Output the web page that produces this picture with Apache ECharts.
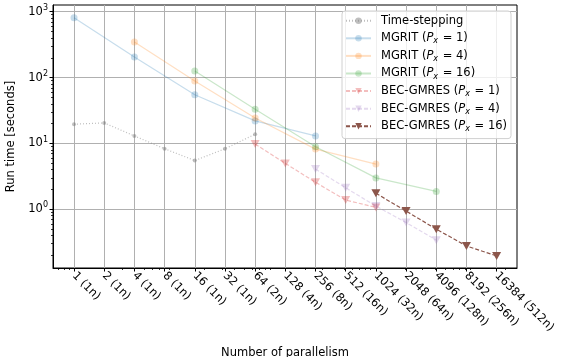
<!DOCTYPE html>
<html><head><meta charset="utf-8">
<script src="https://cdn.jsdelivr.net/npm/echarts@6/dist/echarts.min.js"></script>
<style>html,body{margin:0;padding:0;background:#fff}#c{width:561px;height:357px}</style>
</head><body><div id="c"></div><script>
// ---- data ----
const xTicks = [1,2,4,8,16,32,64,128,256,512,1024,2048,4096,8192,16384];
const xTickLabels = ['1 (1n)','2 (1n)','4 (1n)','8 (1n)','16 (1n)','32 (1n)','64 (2n)','128 (4n)','256 (8n)','512 (16n)','1024 (32n)','2048 (64n)','4096 (128n)','8192 (256n)','16384 (512n)'];
const yTicks = [1,10,100,1000];
const yTickExp = ['0','1','2','3'];

const seriesNames = ['Time-stepping','MGRIT (Px = 1)','MGRIT (Px = 4)','MGRIT (Px = 16)','BEC-GMRES (Px = 1)','BEC-GMRES (Px = 4)','BEC-GMRES (Px = 16)'];
const tsX = [1,2,4,8,16,32,64];
const tsY = [19.6,20.5,13.0,8.3,5.5,8.3,13.8];
const mg1X = [1,4,16,64,256];
const mg1Y = [811,205,55,22,13.0];
const mg4X = [4,16,64,256,1024];
const mg4Y = [346,89,24.4,8.2,4.86];
const mg16X = [16,64,256,1024,4096];
const mg16Y = [126,33,8.9,3.0,1.87];
const bec1X = [64,128,256,512,1024];
const bec1Y = [9.8,4.98,2.57,1.38,1.07];
const bec4X = [256,512,1024,2048,4096];
const bec4Y = [4.08,2.12,1.12,0.63,0.34];
const bec16X = [1024,2048,4096,8192,16384];
const bec16Y = [1.75,0.94,0.50,0.278,0.196];

// ---- helpers ----
const XMIN = 0.617, XMAX = 26140, YMIN = 0.1285, YMAX = 1265;
function minorVals(lo, hi){
  const out=[];
  for(let k=-2;k<=5;k++){for(let m=2;m<=9;m++){const v=m*Math.pow(10,k); if(v>lo&&v<hi) out.push(v);}}
  return out;
}
const xMinor = minorVals(XMIN, XMAX);
const yMinor = minorVals(YMIN, YMAX);
const zip = (a,b)=>a.map((v,i)=>[v,b[i]]);
const FONT = 'DejaVu Sans';
const FS = 11.5;

function legendFmt(name){
  const m = name.match(/^(.*)\(Px = (\d+)\)$/);
  if(!m) return '{t|'+name+'}';
  return '{t|'+m[1]+'(}{i|P}{s|x}{t| = '+m[2]+')}';
}

function mk(name, xs, ys, color, alpha, opts){
  const c = echarts.color.modifyAlpha(color, alpha);
  return Object.assign({
    name, type:'line', data: zip(xs,ys), xAxisIndex:0, yAxisIndex:0,
    symbol:'circle', symbolSize:7,
    lineStyle:{color:c, width:1.2},
    itemStyle:{color:c, borderWidth:0},
    emphasis:{disabled:true}, animation:false, z:3
  }, opts||{});
}

const series = [
  mk(seriesNames[0], tsX, tsY, '#7f7f7f', 0.5, {symbolSize:4, lineStyle:{color:'rgba(127,127,127,0.5)', width:1.2, type:[1,2]}}),
  mk(seriesNames[1], mg1X, mg1Y, '#1f77b4', 0.25),
  mk(seriesNames[2], mg4X, mg4Y, '#ff7f0e', 0.25),
  mk(seriesNames[3], mg16X, mg16Y, '#2ca02c', 0.25),
  mk(seriesNames[4], bec1X, bec1Y, '#d62728', 0.3, {symbol:'triangle', symbolRotate:180, symbolSize:[9,8], lineStyle:{color:'rgba(214,39,40,0.3)', width:1.2, type:[4,2]}}),
  mk(seriesNames[5], bec4X, bec4Y, '#9467bd', 0.25, {symbol:'triangle', symbolRotate:180, symbolSize:[9,8], lineStyle:{color:'rgba(148,103,189,0.25)', width:1.2, type:[4,2]}}),
  mk(seriesNames[6], bec16X, bec16Y, '#8c564b', 1, {symbol:'triangle', symbolRotate:180, symbolSize:[9,8], lineStyle:{color:'#8c564b', width:1.2, type:[4,2]}})
];

const chart = echarts.init(document.getElementById('c'), null, {renderer:'canvas'});
chart.setOption({
  animation:false,
  backgroundColor:'#fff',
  grid:{left:53, top:5, right:44, bottom:89, containLabel:false, outerBoundsMode:'none',
    show:true, borderColor:'#000', borderWidth:1, backgroundColor:'transparent'},
  legend:{
    orient:'vertical', left:342, top:11,
    itemWidth:25, itemHeight:8, itemGap:3.6,
    padding:[2.7,4,5.3,3],
    backgroundColor:'rgba(255,255,255,0.8)', borderColor:'#d0d0d0', borderWidth:1, borderRadius:3,
    data: seriesNames,
    formatter: legendFmt,
    textStyle:{fontFamily:FONT, fontSize:FS, color:'#000', lineHeight:14, padding:[0,0,0,5],
      rich:{
        t:{fontFamily:FONT, fontSize:FS, color:'#000'},
        i:{fontFamily:FONT, fontSize:FS, fontStyle:'italic', color:'#000'},
        s:{fontFamily:FONT, fontSize:8, fontStyle:'italic', color:'#000', padding:[6,1,0,0]}
      }},
    z:10
  },
  xAxis:[{
    type:'log', logBase:2, min:XMIN, max:XMAX, position:'bottom',
    name:'Number of parallelism', nameLocation:'middle', nameGap:79,
    nameTextStyle:{fontFamily:FONT, fontSize:FS, color:'#000'},
    axisLine:{show:true, lineStyle:{color:'#000', width:1}},
    axisTick:{show:true, length:3.5, customValues:xTicks, lineStyle:{color:'#000', width:1}},
    axisLabel:{customValues:xTicks, rotate:-45, margin:6, fontFamily:FONT, fontSize:FS, color:'#000', hideOverlap:false,
      formatter:(v)=>{const i=xTicks.findIndex(t=>Math.abs(t-v)/t<1e-6); return i<0?'':xTickLabels[i];}},
    splitLine:{show:true, lineStyle:{color:'#b0b0b0', width:1}},
    minorTick:{show:false}
  },{
    type:'log', logBase:2, min:XMIN, max:XMAX, position:'bottom', offset:0,
    axisLine:{show:false},
    axisTick:{show:true, length:2, customValues:xMinor, lineStyle:{color:'#000', width:0.8}},
    axisLabel:{show:false}, splitLine:{show:false}
  }],
  yAxis:[{
    type:'log', logBase:10, min:YMIN, max:YMAX, position:'left',
    name:'Run time [seconds]', nameLocation:'middle', nameGap:32, nameRotate:90,
    nameTextStyle:{fontFamily:FONT, fontSize:FS, color:'#000'},
    axisLine:{show:true, lineStyle:{color:'#000', width:1}},
    axisTick:{show:true, length:3.5, customValues:yTicks, lineStyle:{color:'#000', width:1}},
    axisLabel:{customValues:yTicks, margin:5, color:'#000',
      formatter:(v)=>{const i=yTicks.findIndex(t=>Math.abs(t-v)/t<1e-6); return i<0?'':'{b|10}{e|'+yTickExp[i]+'}';},
      rich:{b:{fontFamily:FONT, fontSize:FS, color:'#000'}, e:{fontFamily:FONT, fontSize:8, color:'#000', padding:[0,0,8,0]}}},
    splitLine:{show:true, lineStyle:{color:'#b0b0b0', width:1}}
  },{
    type:'log', logBase:10, min:YMIN, max:YMAX, position:'left', offset:0,
    axisLine:{show:false},
    axisTick:{show:true, length:2, customValues:yMinor, lineStyle:{color:'#000', width:0.8}},
    axisLabel:{show:false}, splitLine:{show:false}
  }],
  series: series
});
</script></body></html>
